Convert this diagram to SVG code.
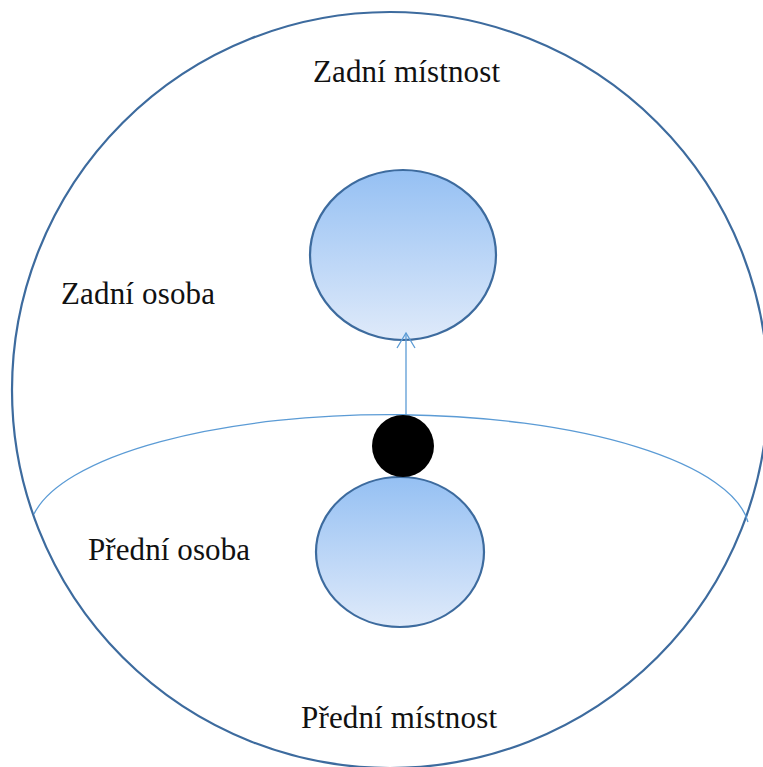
<svg xmlns="http://www.w3.org/2000/svg" width="763" height="767" viewBox="0 0 763 767">
<defs>
<linearGradient id="g" x1="0" y1="0" x2="0" y2="1">
<stop offset="0" stop-color="#95c0f3"/>
<stop offset="1" stop-color="#dfeafa"/>
</linearGradient>
<marker id="ah" markerWidth="20" markerHeight="22" refX="16" refY="11" orient="auto" markerUnits="userSpaceOnUse">
<path d="M1 2 L16 11 L1 20" fill="none" stroke="#5b9bd5" stroke-width="1.3"/>
</marker>
<style>
.person{fill:url(#g);stroke:#3d6b9e;stroke-width:2.2}
.lbl{font-size:31px;fill:#111}
</style>
</defs>
<rect width="763" height="767" fill="#fff"/>
<g id="room">
<circle cx="390" cy="390" r="378" fill="none" stroke="#3d6b9e" stroke-width="2.2"/>
</g>
<g id="divider">
<path d="M34 514 A360 118 0 0 1 748 522" fill="none" stroke="#5b9bd5" stroke-width="1.3"/>
</g>
<g id="back-person">
<ellipse cx="403" cy="255" rx="93" ry="85" class="person"/>
</g>
<g id="front-person">
<ellipse cx="400" cy="552" rx="84" ry="75" class="person"/>
</g>
<g id="dot">
<circle cx="403" cy="446" r="31" fill="#000"/>
</g>
<g id="connectors">
<line x1="406" y1="415" x2="406" y2="333" stroke="#5b9bd5" stroke-width="1.3" marker-end="url(#ah)"/>
</g>
<g id="labels" font-family="Liberation Serif, serif">
<text class="lbl" x="313" y="82" textLength="187">Zadní místnost</text>
<text class="lbl" x="61" y="304" textLength="154">Zadní osoba</text>
<text class="lbl" x="88" y="560" textLength="162">Přední osoba</text>
<text class="lbl" x="301" y="728" textLength="196">Přední místnost</text>
</g>
</svg>
